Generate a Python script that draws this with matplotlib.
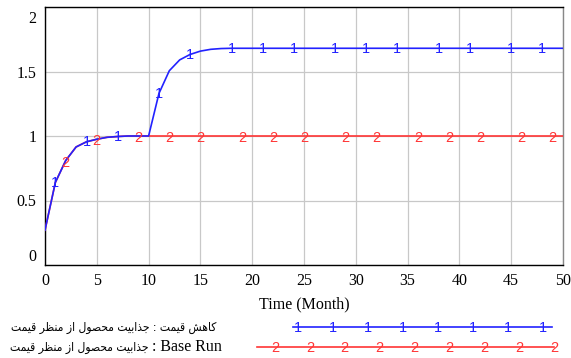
import numpy as np
import matplotlib
matplotlib.use("Agg")
import matplotlib.pyplot as plt
from matplotlib.transforms import ScaledTranslation

# ---------------- data ----------------
time = np.arange(0, 51)
base_head = [0.27, 0.64, 0.81, 0.915, 0.955, 0.975, 0.99, 0.996, 1.0, 1.0, 1.0]
price_cut_tail = [1.33, 1.506, 1.59, 1.632, 1.658, 1.672, 1.678]
price_cut = np.array(base_head + price_cut_tail + [1.68] * (51 - len(base_head) - len(price_cut_tail)))
base_run = np.array(base_head + [1.0] * (51 - len(base_head)))

marker_t_1 = [1, 4, 7, 11, 14, 18, 21, 24, 28, 31, 34, 38, 41, 45, 48]
marker_t_2 = [2, 5, 9, 12, 15, 19, 22, 25, 29, 32, 36, 39, 42, 46, 49]

x_ticks = [0, 5, 10, 15, 20, 25, 30, 35, 40, 45, 50]
y_ticks = [0, 0.5, 1, 1.5, 2]
y_tick_labels = ["0", "0.5", "1", "1.5", "2"]
x_label = "Time (Month)"
var_name = "جذابیت محصول از منظر قیمت"
run1_name = "کاهش قیمت"
run2_name = "Base Run"

BLUE = "#2222ff"
RED = "#ff3535"

# ---------------- minimal Arabic shaping for matplotlib ----------------
FORMS = {
    "\u0627": ("\uFE8D", "\uFE8E", None, None),
    "\u0628": ("\uFE8F", "\uFE90", "\uFE91", "\uFE92"),
    "\u062A": ("\uFE95", "\uFE96", "\uFE97", "\uFE98"),
    "\u062C": ("\uFE9D", "\uFE9E", "\uFE9F", "\uFEA0"),
    "\u062D": ("\uFEA1", "\uFEA2", "\uFEA3", "\uFEA4"),
    "\u0630": ("\uFEAB", "\uFEAC", None, None),
    "\u0631": ("\uFEAD", "\uFEAE", None, None),
    "\u0632": ("\uFEAF", "\uFEB0", None, None),
    "\u0634": ("\uFEB5", "\uFEB6", "\uFEB7", "\uFEB8"),
    "\u0635": ("\uFEB9", "\uFEBA", "\uFEBB", "\uFEBC"),
    "\u0638": ("\uFEC5", "\uFEC6", "\uFEC7", "\uFEC8"),
    "\u0642": ("\uFED5", "\uFED6", "\uFED7", "\uFED8"),
    "\u0644": ("\uFEDD", "\uFEDE", "\uFEDF", "\uFEE0"),
    "\u0645": ("\uFEE1", "\uFEE2", "\uFEE3", "\uFEE4"),
    "\u0646": ("\uFEE5", "\uFEE6", "\uFEE7", "\uFEE8"),
    "\u0647": ("\uFEE9", "\uFEEA", "\uFEEB", "\uFEEC"),
    "\u0648": ("\uFEED", "\uFEEE", None, None),
    "\u06A9": ("\uFB8E", "\uFB8F", "\uFB90", "\uFB91"),
    "\u06CC": ("\uFBFC", "\uFBFD", "\uFBFE", "\uFBFF"),
}


def shape(s):
    out = []
    for i, c in enumerate(s):
        if c not in FORMS:
            out.append(c)
            continue
        f = FORMS[c]
        prev = s[i - 1] if i > 0 else None
        nxt = s[i + 1] if i + 1 < len(s) else None
        jp = prev in FORMS and FORMS[prev][2] is not None
        jn = nxt in FORMS and f[2] is not None
        if jp and jn:
            out.append(f[3])
        elif jp:
            out.append(f[1])
        elif jn:
            out.append(f[2])
        else:
            out.append(f[0])
    return "".join(out)


def rtl(s):
    return shape(s)[::-1]


# ---------------- figure ----------------
W, H = 571, 358
fig = plt.figure(figsize=(W / 100, H / 100), dpi=100)
L, R, T, B = 45, 563, 7, 265
ax = fig.add_axes([L / W, 1 - B / H, (R - L) / W, (B - T) / H])

SERIF = ["Liberation Serif", "DejaVu Sans"]
AR = ["DejaVu Sans"]
MK = dict(fontsize=10.5, family="Liberation Sans")

ax.plot(time, base_run, color=RED, lw=1.2, zorder=3)
ax.plot(time, price_cut, color=BLUE, lw=1.2, zorder=4)

for t in marker_t_2:
    ax.annotate("2", (t, np.interp(t, time, base_run)), xytext=(0, -1.5), textcoords="offset points",
                ha="center", va="center", color=RED, zorder=5, **MK)
for t in marker_t_1:
    ax.annotate("1", (t, np.interp(t, time, price_cut)), xytext=(0, -0.5), textcoords="offset points",
                ha="center", va="center", color=BLUE, zorder=6, **MK)

ax.set_xlim(0, 50)
ax.set_ylim(0, 2)
ax.set_xticks(x_ticks)
ax.set_yticks(y_ticks)
ax.set_yticklabels(y_tick_labels)
ax.tick_params(length=0, labelsize=11.5, pad=6)
for lab in ax.get_xticklabels() + ax.get_yticklabels():
    lab.set_family(SERIF)
ax.grid(True, color="#c8c8c8", lw=0.9)
ax.set_axisbelow(True)
for s in ["left", "bottom", "top"]:
    ax.spines[s].set_color("black")
    ax.spines[s].set_linewidth(1.0)
ax.spines["right"].set_color("#888888")
ax.spines["right"].set_linewidth(1.0)

# pull end labels inside as in the reference
ylabs = ax.get_yticklabels()
ylabs[-1].set_transform(ylabs[-1].get_transform() + ScaledTranslation(0, -10 / 100, fig.dpi_scale_trans))
ylabs[0].set_transform(ylabs[0].get_transform() + ScaledTranslation(0, 10 / 100, fig.dpi_scale_trans))

ax.set_xlabel(x_label, family=SERIF, fontsize=11.5, labelpad=5)

# ---------------- legend ----------------
renderer = fig.canvas.get_renderer()

# line 1: fully Persian; fit between x=10 and x=216
t1 = fig.text(216 / W, 1 - 327 / H, rtl(run1_name + " : " + var_name), ha="right", va="center",
              family=AR, fontsize=10, fontstretch="condensed")
w1 = t1.get_window_extent(renderer).width
ar_size = 10 * 206 / w1
t1.set_fontsize(ar_size)

# line 2: "Base Run" in serif on the right, Persian variable name to its left
t2b = fig.text(222 / W, 1 - 347 / H, " : " + run2_name, ha="right", va="center",
               family=SERIF, fontsize=11.5)
x_left = t2b.get_window_extent(renderer).x0
fig.text(x_left / W, 1 - 347 / H, rtl(var_name), ha="right", va="center",
         family=AR, fontsize=ar_size, fontstretch="condensed")

fig.add_artist(plt.Line2D([293 / W, 552 / W], [1 - 327 / H] * 2, color=BLUE, lw=1.2))
fig.add_artist(plt.Line2D([257 / W, 554 / W], [1 - 347 / H] * 2, color=RED, lw=1.2))
for k in range(8):
    x = 298 + k * 35.0
    fig.text(x / W, 1 - 327.5 / H, "1", ha="center", va="center", color=BLUE, **MK)
for k in range(9):
    x = 275 + k * 34.9
    fig.text(x / W, 1 - 348.5 / H, "2", ha="center", va="center", color=RED, **MK)

fig.savefig("out.png", dpi=100)
